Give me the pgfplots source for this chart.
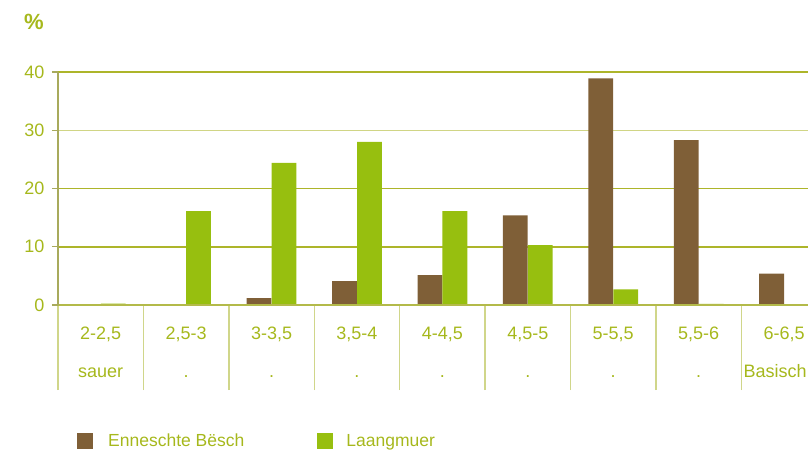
\documentclass[border=0pt]{standalone}
\usepackage{pgfplots}
\pgfplotsset{compat=1.18}
\usepackage{fontspec}
\setmainfont{Liberation Sans}
\definecolor{brownbar}{HTML}{7F5F37}
\definecolor{greenbar}{HTML}{97BF0F}
\definecolor{txtgreen}{HTML}{A6B81C}
\definecolor{griddark}{HTML}{ADB52A}
\definecolor{gridlight}{HTML}{D0D585}
\definecolor{sepcol}{HTML}{D0D68A}
\definecolor{axiscol}{HTML}{A8AA5C}
\definecolor{zerocol}{HTML}{B3BA4A}
\begin{document}
\begin{tikzpicture}
\clip (-58bp,-148bp) rectangle (750bp,305bp);
\begin{axis}[
  at={(0,0)}, anchor=south west,
  scale only axis, width=750bp, height=233bp,
  xmin=-0.5, xmax=8.28, ymin=0, ymax=40,
  clip=false,
  axis line style={draw=none},
  ybar, bar width=0.29,
  ytick={0,10,20,40}, extra y ticks={30},
  extra y tick style={ymajorgrids=true, grid style={gridlight, line width=1.5bp}},
  ymajorgrids, grid style={griddark, line width=1.5bp},
  tick align=outside,
  major tick length=6bp,
  tick style={axiscol, line width=1.2bp},
  ytick pos=left, xtick pos=bottom,
  yticklabel style={text=txtgreen, font=\fontsize{18bp}{20bp}\selectfont, /pgf/number format/assume math mode=true, xshift=-4bp},
  xtick={0,...,8},
  xticklabels={{2-2,5},{2,5-3},{3-3,5},{3,5-4},{4-4,5},{4,5-5},{5-5,5},{5,5-6},{6-6,5}},
  major x tick style={draw=none},
  xticklabel style={text=txtgreen, font=\fontsize{18bp}{20bp}\selectfont, anchor=base, yshift=-28bp},
  minor xtick={-0.5,0.5,...,8.5},
  minor tick length=85bp,
  minor x tick style={sepcol, line width=1.5bp},
  extra x ticks={0,...,8},
  extra x tick labels={sauer,.,.,.,.,.,.,.,{\kern-18bp Basisch}},
  extra x tick style={major tick length=0bp, xticklabel style={yshift=-44bp}, xmajorgrids=false},
  legend columns=2,
  legend style={at={(0,0)}, anchor=west, xshift=16bp, yshift=-136bp, draw=none, fill=none,
    font=\fontsize{17.5bp}{20bp}\selectfont, text=txtgreen,
    /tikz/every even column/.append style={column sep=71bp}},
  legend cell align=left,
]
\addplot[fill=brownbar, draw=none, bar shift=-0.146,
  legend image code/.code={\fill[brownbar] (0bp,-8bp) rectangle (16bp,8bp);}]
  coordinates {(0,0) (1,0) (2,1.2) (3,4.1) (4,5.15) (5,15.4) (6,38.9) (7,28.3) (8,5.4)};
\addlegendentry{\hspace{13bp}Enneschte Bësch}
\addplot[fill=greenbar, draw=none, bar shift=0.146,
  legend image code/.code={\fill[greenbar] (0bp,-8bp) rectangle (16bp,8bp);}]
  coordinates {(0,0.25) (1,16.1) (2,24.4) (3,28.0) (4,16.1) (5,10.3) (6,2.7) (7,0.2) (8,0)};
\addlegendentry{\hspace{11bp}Laangmuer}
\draw[zerocol, line width=1.5bp] (axis cs:-0.5,0) -- (axis cs:8.28,0);
\draw[axiscol, line width=1.5bp] (axis cs:-0.5,0) -- (axis cs:-0.5,40);
\end{axis}
\node[text=txtgreen, font=\bfseries\fontsize{22bp}{24bp}\selectfont] at (-24bp,283bp) {\%};
\end{tikzpicture}
\end{document}
